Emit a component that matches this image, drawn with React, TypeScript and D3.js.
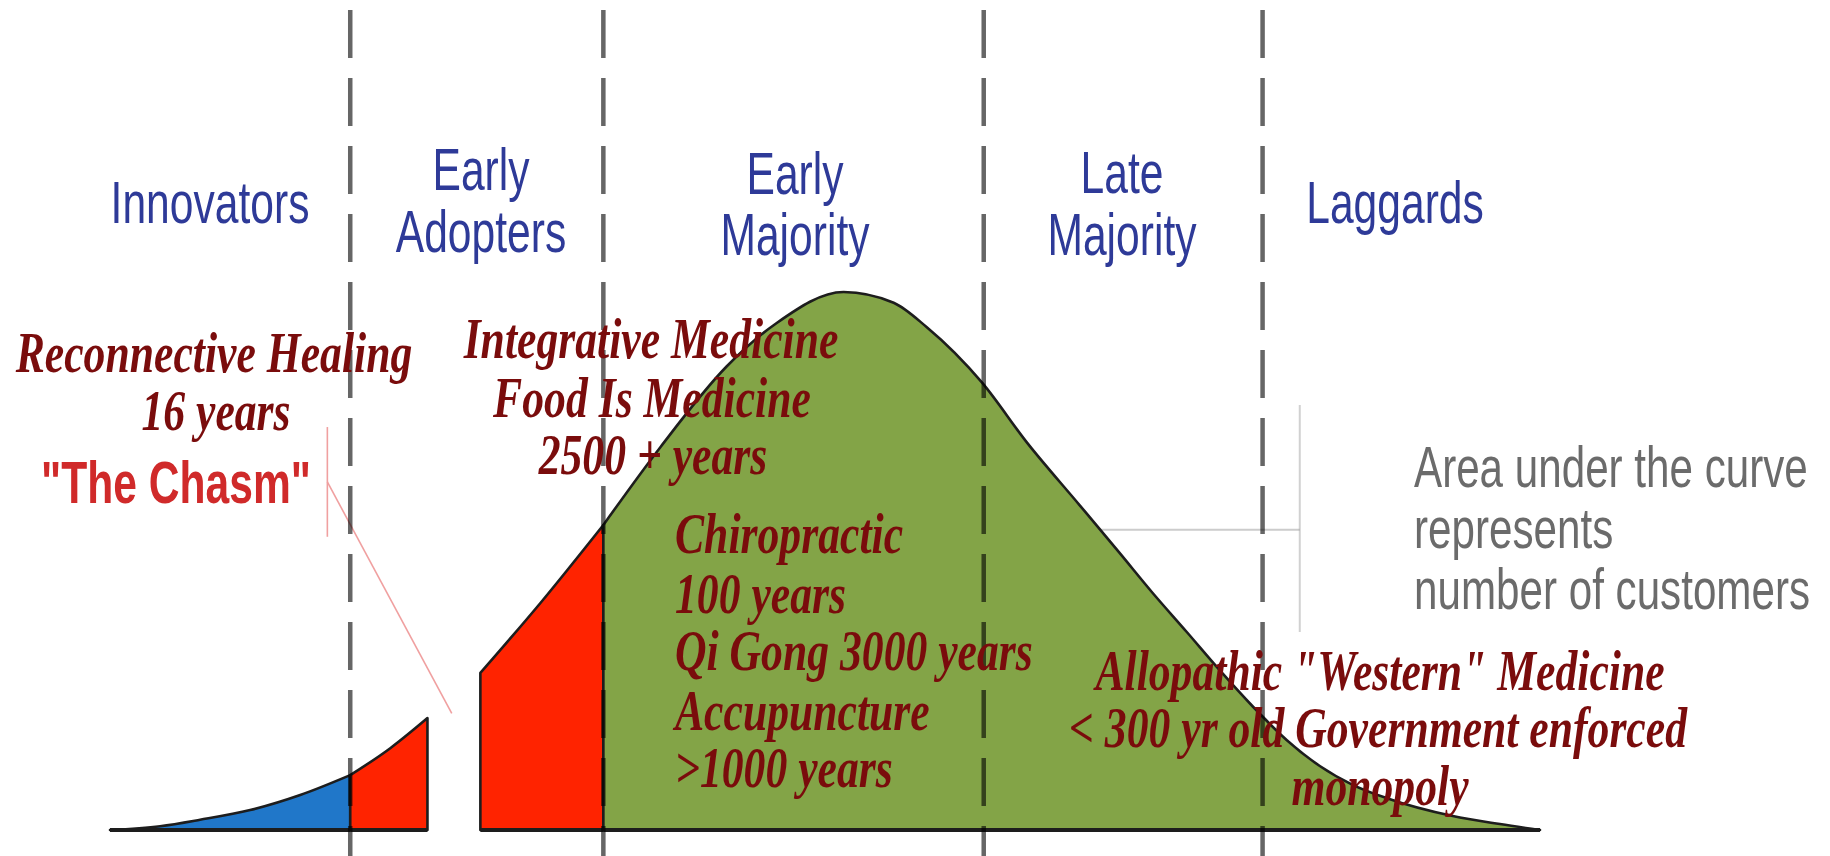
import React from "react";
import * as d3 from "d3";

// ---- data ----
const categories = ["Innovators", "Early Adopters", "Early Majority", "Late Majority", "Laggards"];
// boundaries between adopter groups, on the adoption-time axis (0..100)
const boundaries = [16.8, 34.5, 61.1, 80.6];
// sampled bell curve: adoption time vs. relative number of customers (peak = 100)
const curveT = [0, 3.5, 6.3, 9.8, 13.3, 16.8, 19.6, 22.2, 25.9, 30.1, 34.5, 38.5, 43.1, 46.6, 51.3, 54.8, 57.1, 61.0, 64.1, 67.8, 70.6, 72.9, 75.3, 77.6, 79.9, 82.3, 84.6, 86.9, 89.3, 93.9, 97.2, 100];
const curveV = [0, 0.7, 1.9, 3.7, 6.5, 10.2, 15.2, 20.8, 29.2, 42.2, 56.7, 71.2, 86.1, 94.2, 100, 98.0, 93.5, 83.1, 72.1, 60.4, 51.5, 44.1, 36.8, 29.7, 23.0, 16.7, 11.9, 8.4, 5.9, 2.6, 1.1, 0];
// filled pieces of the curve [from, to]; the gap between 22.2 and 25.9 is "the chasm"
const pieceFrom = [0, 16.8, 25.9, 34.5];
const pieceTo = [16.8, 22.2, 34.5, 100];
const pieceColors = ["#2077c9", "#ff2300", "#ff2300", "#83a447"];

const headerLines = [["Innovators"], ["Early", "Adopters"], ["Early", "Majority"], ["Late", "Majority"], ["Laggards"]];

const W = 1830;
const H = 856;

export default function App() {
  const x = d3.scaleLinear().domain([0, 100]).range([110, 1540]);
  const y = d3.scaleLinear().domain([0, 100]).range([830, 292]);
  const pts: [number, number][] = curveT.map((t, i) => [t, curveV[i]]);

  const area = d3
    .area<[number, number]>()
    .x((d) => x(d[0]))
    .y0(y(0))
    .y1((d) => y(d[1]))
    .curve(d3.curveMonotoneX);

  const sansCond = (
    txt: string,
    cx: number,
    cy: number,
    opts: { size?: number; fill?: string; weight?: string; anchor?: string; sx?: number } = {}
  ) => (
    <text
      key={txt + cx + cy}
      transform={`translate(${cx},${cy}) scale(${opts.sx || 0.71},1)`}
      textAnchor={opts.anchor || "middle"}
      fontFamily="'Liberation Sans', Arial, sans-serif"
      fontSize={opts.size || 60}
      fontWeight={opts.weight || "normal"}
      fill={opts.fill || "#2e3a98"}
    >
      {txt}
    </text>
  );

  const serif = (txt: string, cx: number, cy: number, anchor = "middle") => (
    <text
      key={txt + cx + cy}
      transform={`translate(${cx},${cy}) scale(0.78,1)`}
      textAnchor={anchor}
      fontFamily="'Liberation Serif', 'Times New Roman', serif"
      fontStyle="italic"
      fontWeight="bold"
      fontSize={56}
      fill="#7a0c0c"
    >
      {txt}
    </text>
  );

  // header label positions (centre x, baselines)
  const headerPos = [
    { cx: 210, ys: [223] },
    { cx: 481, ys: [190, 252] },
    { cx: 795, ys: [194, 255] },
    { cx: 1122, ys: [193, 255] },
    { cx: 1395, ys: [223] },
  ];

  const grey = { size: 57, fill: "#6b6b6b", anchor: "start", sx: 0.74 };

  return (
    <svg width={W} height={H} style={{ position: "absolute", left: 0, top: 0, background: "#fff" }}>
      <rect width={W} height={H} fill="#fff" />

      {/* annotation bracket (light grey) */}
      <line x1={x(55.2)} x2={x(83.2)} y1={y(55.8)} y2={y(55.8)} stroke="#999" strokeOpacity={0.5} strokeWidth={2} />
      <line x1={x(83.2)} x2={x(83.2)} y1={y(79.0)} y2={y(36.8)} stroke="#999" strokeOpacity={0.45} strokeWidth={2} />

      {/* curve pieces */}
      {pieceFrom.map((a, i) => {
        const b = pieceTo[i];
        const sub = pts.filter((p) => p[0] >= a - 1e-9 && p[0] <= b + 1e-9);
        return (
          <g key={"piece" + i}>
            <path
              d={area(sub) || ""}
              fill={pieceColors[i]}
              stroke="#1d1d1d"
              strokeWidth={2.6}
              strokeLinejoin="round"
            />
            <line x1={x(a)} x2={x(b)} y1={y(0)} y2={y(0)} stroke="#1d1d1d" strokeWidth={4} />
          </g>
        );
      })}

      {/* chasm pointer lines */}
      <line x1={x(15.2)} x2={x(15.2)} y1={y(74.9)} y2={y(54.5)} stroke="#f0a0a0" strokeWidth={1.6} />
      <line x1={x(15.2)} x2={x(23.9)} y1={y(64.7)} y2={y(21.7)} stroke="#f0a0a0" strokeWidth={1.6} />

      {/* dashed group boundaries */}
      {boundaries.map((b, i) => (
        <line
          key={"b" + i}
          x1={x(b)}
          x2={x(b)}
          y1={10}
          y2={H}
          stroke="#000"
          strokeOpacity={0.6}
          strokeWidth={4.5}
          strokeDasharray="48 20"
        />
      ))}

      {/* group headers */}
      {categories.map((c, i) =>
        headerLines[i].map((ln, j) => sansCond(ln, headerPos[i].cx, headerPos[i].ys[j]))
      )}

      {/* "The Chasm" */}
      {sansCond('"The Chasm"', 176, 503, { fill: "#d02a2a", weight: "bold" })}

      {/* right annotation */}
      {sansCond("Area under the curve", 1414, 487, grey)}
      {sansCond("represents", 1414, 548, grey)}
      {sansCond("number of customers", 1414, 609, grey)}

      {/* serif annotations */}
      {serif("Reconnective Healing", 214, 372)}
      {serif("16 years", 216, 430)}

      {serif("Integrative Medicine", 651, 358)}
      {serif("Food Is Medicine", 652, 417)}
      {serif("2500 + years", 653, 474)}

      {serif("Chiropractic", 675, 553, "start")}
      {serif("100 years", 675, 613, "start")}
      {serif("Qi Gong 3000 years", 675, 670, "start")}
      {serif("Accupuncture", 675, 730, "start")}
      {serif(">1000 years", 675, 787, "start")}

      {serif('Allopathic "Western" Medicine', 1380, 690)}
      {serif("< 300 yr old Government enforced", 1378, 747)}
      {serif("monopoly", 1380, 805)}
    </svg>
  );
}
